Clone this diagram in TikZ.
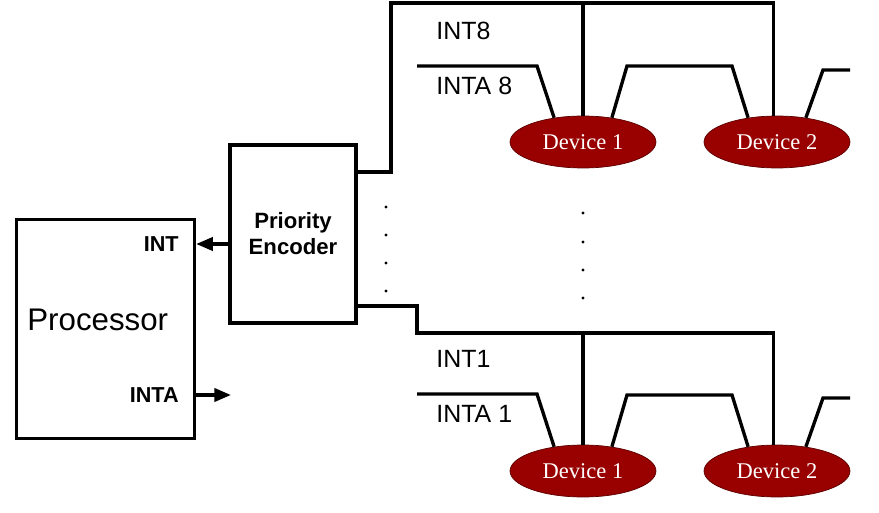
\documentclass[tikz,border=0pt]{standalone}
\usepackage{fontspec}
\setmainfont{Liberation Sans}
\newfontfamily\devfont{Liberation Serif}
\usetikzlibrary{positioning}
\usetikzlibrary{arrows.meta}
\usetikzlibrary{shapes.geometric}
\definecolor{devred}{RGB}{153,0,0}

\tikzset{
    wire/.style={line width=1.9pt},
    block/.style={draw, line width=1.9pt, rectangle, inner sep=0pt},
    device/.style={ellipse, fill=devred, draw=devred!60!black, line width=0.4pt,
        minimum width=2.92cm, minimum height=1.04cm, inner sep=0pt,
        text=white, font=\devfont\fontsize{12.8}{14}\selectfont},
    siglabel/.style={font=\fontsize{14.2}{16}\selectfont, inner sep=0pt},
    pinlabel/.style={font=\bfseries\fontsize{12.3}{14}\selectfont, inner sep=0pt},
    tip/.style={-{Triangle[length=9.5pt, width=7.5pt]}},
}

\begin{document}
\begin{tikzpicture}[x=0.02cm, y=-0.02cm]
    \useasboundingbox (0,0) rectangle (879,513);

    % processor and encoder
    \node [block, minimum width=3.56cm, minimum height=4.38cm] (proc) at (105.5,329) {};
    \node [anchor=west, inner sep=0pt, font=\fontsize{17.8}{20}\selectfont] (proctext) at (27,320) {Processor};
    \node [pinlabel, anchor=east] (int) at (179,244) {INT};
    \node [pinlabel, anchor=east] (inta) at (179,395) {INTA};

    \node [block, minimum width=2.52cm, minimum height=3.56cm, align=center,
        font=\bfseries\fontsize{12.6}{14.7}\selectfont] (enc) at (293,234) {Priority\\Encoder};

    \draw [wire, tip] (enc.west |- int) -- (proc.east |- int);
    \coordinate (intaend) at (231,395);
    \draw [wire, tip] (proc.east |- inta) -- (intaend);

    % devices on line 8
    \node [device] (dev81) at (583,142) {Device 1};
    \node [device] (dev82) at (777,142) {Device 2};
    \node [siglabel, anchor=west] (int8) at (436,31) {INT8};
    \node [siglabel, anchor=west] (inta8) at (436,86) {INTA 8};

    % devices on line 1
    \node [device] (dev11) at (583,471) {Device 1};
    \node [device] (dev12) at (777,471) {Device 2};
    \node [siglabel, anchor=west] (int1) at (436,359) {INT1};
    \node [siglabel, anchor=west] (inta1) at (436,414) {INTA 1};

    % interrupt request lines
    \draw [wire] (enc.east |- 0,172) -| (391,3) -| (dev82.97);
    \draw [wire] (dev81.north) -- (dev81.north |- 0,3);
    \draw [wire] (enc.east |- 0,306) -| (417,333) -| (dev12.97);
    \draw [wire] (dev11.north) -- (dev11.north |- 0,333);

    % acknowledge daisy chains
    \coordinate (ack8) at (417,66);
    \coordinate (ack8out) at (850,70);
    \draw [wire] (ack8) -- (537,66) -- (dev81.140);
    \draw [wire] (dev81.40) -- (627,66) -- (732,66) -- (dev82.140);
    \draw [wire] (dev82.40) -- (823,70) -- (ack8out);

    \coordinate (ack1) at (417,394);
    \coordinate (ack1out) at (850,398);
    \draw [wire] (ack1) -- (537,394) -- (dev11.140);
    \draw [wire] (dev11.40) -- (627,395) -- (732,395) -- (dev12.140);
    \draw [wire] (dev12.40) -- (823,398) -- (ack1out);

    % dots for the lines in between
    \foreach \y in {207,235,263,291}
        \fill (386,\y) circle [radius=0.032cm];
    \foreach \y in {213,242,270,298}
        \fill (583,\y) circle [radius=0.032cm];
\end{tikzpicture}
\end{document}
